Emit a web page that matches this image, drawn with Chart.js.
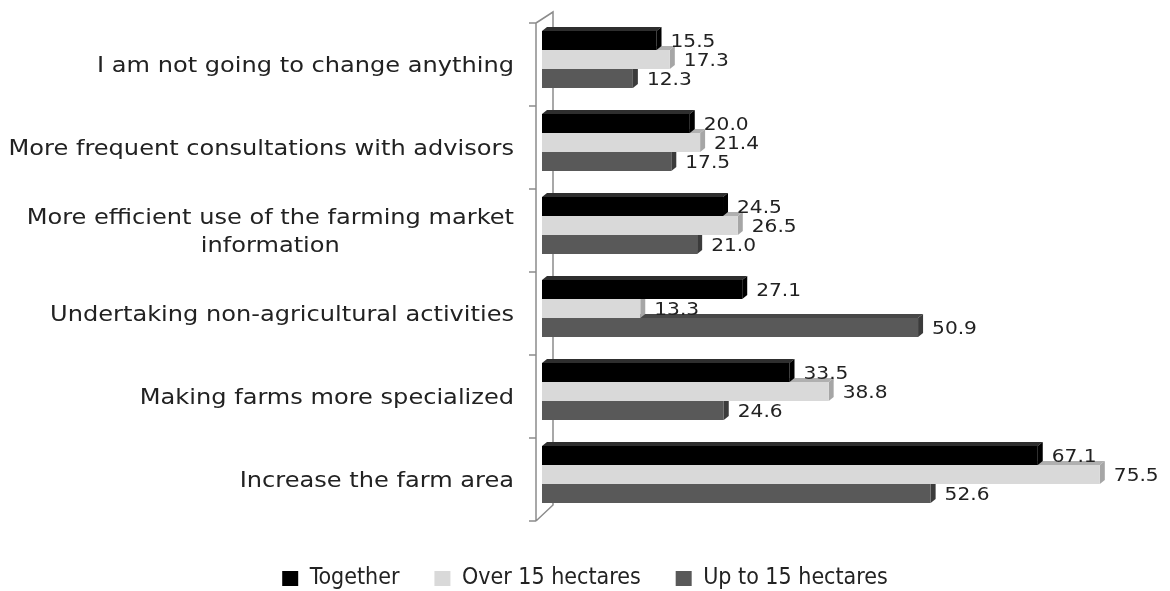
<!DOCTYPE html>
<html>
<head>
<meta charset="utf-8">
<script src="https://cdn.jsdelivr.net/npm/chart.js@4/dist/chart.umd.min.js"></script>
<style>
    html, body { margin: 0; padding: 0; background: #fff; overflow: hidden; }
    #wrap { width: 1170px; height: 600px; position: relative; }
</style>
</head>
<body>
<div id="wrap"><canvas id="chart"></canvas></div>
<script>
const categories = [
    'I am not going to change anything',
    'More frequent consultations with advisors',
    ['More efficient use of the farming market', 'information'],
    'Undertaking non-agricultural activities',
    'Making farms more specialized',
    'Increase the farm area'
];
const seriesNames = ['Together', 'Over 15 hectares', 'Up to 15 hectares'];
const together = [15.5, 20.0, 24.5, 27.1, 33.5, 67.1];
const over15 = [17.3, 21.4, 26.5, 13.3, 38.8, 75.5];
const upTo15 = [12.3, 17.5, 21.0, 50.9, 24.6, 52.6];

const frontColors = ['#000000', '#d9d9d9', '#595959'];
const sideColors = ['#000000', '#a6a6a6', '#3b3b3b'];
const topColors = ['#2e2e2e', '#b0b0b0', '#474747'];

const DX = 5, DY = 4;            // depth of the fake 3D faces
const STRETCH = 1.12;            // the source picture is a bit wider than tall
const textFont = '"DejaVu Sans", Verdana, sans-serif';

// wall, axis ticks and the side/top faces of every bar
const depthPlugin = {
    id: 'depth',
    beforeDatasetsDraw(chart) {
        const ctx = chart.ctx;
        const area = chart.chartArea;
        const y = chart.scales.y;
        const front = area.left - 6;
        const back = area.left + 11;

        ctx.save();
        ctx.strokeStyle = '#8c8c8c';
        ctx.lineWidth = 1.5;
        ctx.beginPath();
        ctx.moveTo(front, area.top + 5);
        ctx.lineTo(back, area.top - 6);
        ctx.lineTo(back, area.bottom - 11);
        ctx.lineTo(front, area.bottom + 5);
        ctx.moveTo(front, area.top + 5);
        ctx.lineTo(front, area.bottom + 5);
        // category boundaries
        const n = categories.length;
        for (let i = 0; i <= n; i++) {
            let py;
            if (i === 0) py = area.top;
            else if (i === n) py = area.bottom;
            else py = (y.getPixelForValue(i - 1) + y.getPixelForValue(i)) / 2;
            ctx.moveTo(front - 7, py + 5);
            ctx.lineTo(front, py + 5);
        }
        ctx.stroke();

        for (let d = chart.data.datasets.length - 1; d >= 0; d--) {
            const meta = chart.getDatasetMeta(d);
            meta.data.forEach(bar => {
                const top = bar.y - bar.height / 2;
                const bottom = bar.y + bar.height / 2;
                ctx.fillStyle = topColors[d];
                ctx.beginPath();
                ctx.moveTo(bar.base, top);
                ctx.lineTo(bar.base + DX, top - DY);
                ctx.lineTo(bar.x + DX, top - DY);
                ctx.lineTo(bar.x, top);
                ctx.closePath();
                ctx.fill();
                ctx.fillStyle = sideColors[d];
                ctx.beginPath();
                ctx.moveTo(bar.x, top);
                ctx.lineTo(bar.x + DX, top - DY);
                ctx.lineTo(bar.x + DX, bottom - DY);
                ctx.lineTo(bar.x, bottom);
                ctx.closePath();
                ctx.fill();
            });
        }
        ctx.restore();
    },
    afterDatasetsDraw(chart) {
        const ctx = chart.ctx;
        const area = chart.chartArea;
        const y = chart.scales.y;
        ctx.save();
        ctx.fillStyle = '#222';
        ctx.textBaseline = 'middle';

        // value labels
        ctx.font = '18px ' + textFont;
        chart.data.datasets.forEach((ds, d) => {
            chart.getDatasetMeta(d).data.forEach((bar, i) => {
                ctx.save();
                ctx.translate(bar.x + 14, bar.y + 2);
                ctx.scale(STRETCH, 1);
                ctx.textAlign = 'left';
                ctx.fillText(ds.data[i].toFixed(1), 0, 0);
                ctx.restore();
            });
        });

        // category labels, right aligned, wrapped lines centred on each other
        ctx.font = '21.5px ' + textFont;
        const right = area.left - 28;
        const lineH = 27.5;
        categories.forEach((label, i) => {
            const lines = Array.isArray(label) ? label : [label];
            const cy = y.getPixelForValue(i) + 7;
            const widest = Math.max(...lines.map(l => ctx.measureText(l).width));
            lines.forEach((line, k) => {
                const ly = cy + (k - (lines.length - 1) / 2) * lineH;
                ctx.save();
                ctx.translate(right, ly);
                ctx.scale(STRETCH, 1);
                ctx.textAlign = 'center';
                ctx.fillText(line, -widest / 2, 0);
                ctx.restore();
            });
        });
        ctx.restore();
    }
};

const ctx = document.getElementById('chart').getContext('2d');
new Chart(ctx, {
    type: 'bar',
    data: {
        labels: categories,
        datasets: [
            { label: seriesNames[0], data: together, backgroundColor: frontColors[0] },
            { label: seriesNames[1], data: over15, backgroundColor: frontColors[1] },
            { label: seriesNames[2], data: upTo15, backgroundColor: frontColors[2] }
        ]
    },
    options: {
        indexAxis: 'y',
        responsive: true,
        maintainAspectRatio: false,
        animation: false,
        layout: { padding: { left: 0, right: 0, top: 18, bottom: 0 } },
        datasets: {
            bar: { categoryPercentage: 0.687, barPercentage: 1, borderWidth: 0 }
        },
        scales: {
            x: {
                min: 0, max: 85,
                ticks: { display: false },
                grid: { display: false },
                border: { display: false },
                afterFit(scale) { scale.height = 16; }
            },
            y: {
                ticks: { display: false },
                grid: { display: false },
                border: { display: false },
                afterFit(scale) { scale.width = 542; }
            }
        },
        plugins: {
            legend: {
                position: 'bottom',
                labels: {
                    boxWidth: 16,
                    boxHeight: 15,
                    padding: 35,
                    color: '#222',
                    font: { family: '"DejaVu Sans Condensed", "Liberation Sans Narrow", "DejaVu Sans", sans-serif', size: 23 }
                }
            },
            tooltip: { enabled: false }
        }
    },
    plugins: [depthPlugin]
});
</script>
</body>
</html>
